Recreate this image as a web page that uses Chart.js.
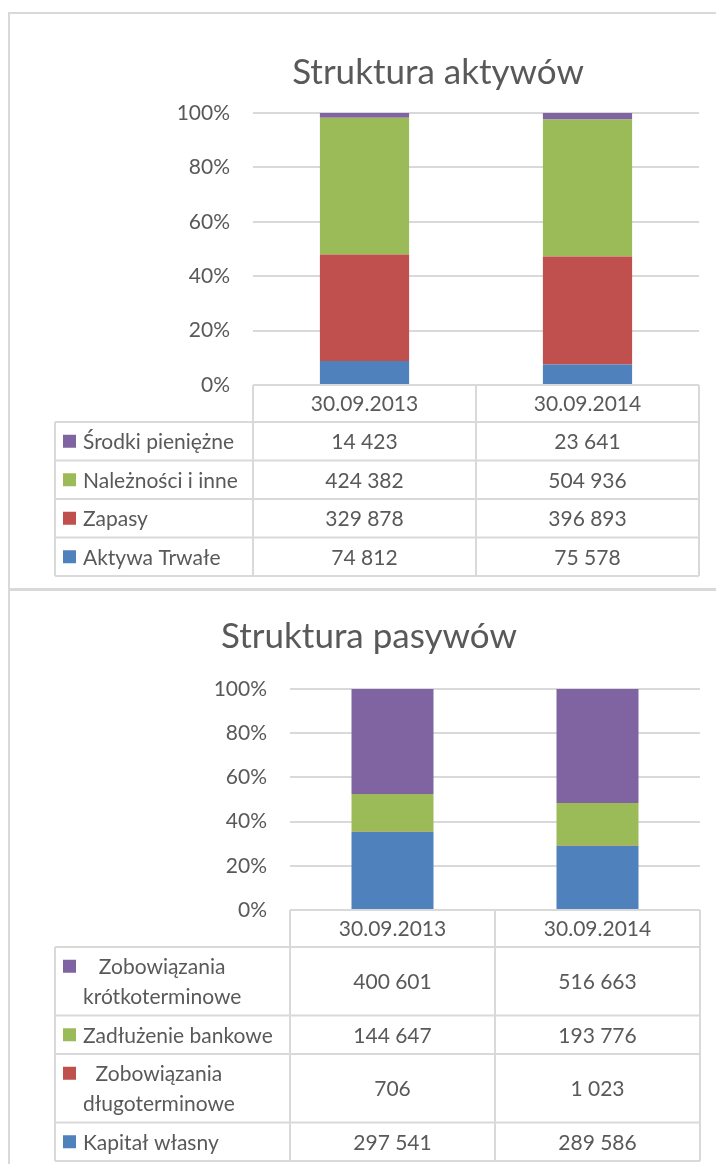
<!DOCTYPE html>
<html><head><meta charset="utf-8">
<script src="https://cdn.jsdelivr.net/npm/chart.js@4.4.0/dist/chart.umd.min.js"></script>
<style>
html,body{margin:0;padding:0;width:716px;height:1164px;overflow:hidden;background:#fff;}
.frame{position:absolute;border:2px solid #d9d9d9;box-sizing:border-box;}
.wrap{position:absolute;}
canvas{display:block;}
</style></head><body>
<div class="frame" style="left:8px;top:12px;width:870px;height:578px"></div>
<div class="frame" style="left:8px;top:589px;width:870px;height:620px"></div>
<div class="wrap" style="left:10px;top:14px;width:856px;height:574px"><canvas id="c1" width="856" height="574"></canvas></div>
<div class="wrap" style="left:10px;top:591px;width:718px;height:573px"><canvas id="c2" width="718" height="573"></canvas></div>
<script>
// ---- data ----
const categories = ['30.09.2013', '30.09.2014'];
const percentTicks = [0, 20, 40, 60, 80, 100];

// Struktura aktywów
const aktywaTrwale = [74812, 75578];
const zapasy = [329878, 396893];
const naleznosci = [424382, 504936];
const srodkiPieniezne = [14423, 23641];

// Struktura pasywów
const kapitalWlasny = [297541, 289586];
const zobDlugoterminowe = [706, 1023];
const zadluzenieBankowe = [144647, 193776];
const zobKrotkoterminowe = [400601, 516663];

const seriesAktywa = [
  {label: 'Aktywa Trwałe', values: aktywaTrwale, color: '#4f81bd'},
  {label: 'Zapasy', values: zapasy, color: '#c0504d'},
  {label: 'Należności i inne', values: naleznosci, color: '#9bbb59'},
  {label: 'Środki pieniężne', values: srodkiPieniezne, color: '#8064a2'}
];
const seriesPasywa = [
  {label: 'Kapitał własny', values: kapitalWlasny, color: '#4f81bd'},
  {label: 'Zobowiązania długoterminowe', values: zobDlugoterminowe, color: '#c0504d'},
  {label: 'Zadłużenie bankowe', values: zadluzenieBankowe, color: '#9bbb59'},
  {label: 'Zobowiązania krótkoterminowe', values: zobKrotkoterminowe, color: '#8064a2'}
];

const FONT = 'Lato, "Open Sans", sans-serif';
const TXT = '#595959';
const LINE = '#d9d9d9';

function fmt(v){ return String(v).replace(/\B(?=(\d{3})+(?!\d))/g, ' '); }

function wrapText(ctx, text, maxW){
  const words = text.split(' ');
  const lines = [];
  let cur = '';
  for (const w of words){
    const t = cur ? cur + ' ' + w : w;
    if (cur && ctx.measureText(t).width > maxW){ lines.push(cur); cur = w; }
    else cur = t;
  }
  if (cur) lines.push(cur);
  return lines;
}

const tablePlugin = {
  id: 'dataTable',
  afterDraw(chart, args, opts){
    const ctx = chart.ctx, x = chart.scales.x, area = chart.chartArea;
    const n = chart.data.labels.length;
    const colW = (x.right - x.left) / n;
    const series = opts.series;
    ctx.save();
    ctx.font = '21px ' + FONT;
    ctx.fillStyle = TXT;
    ctx.textBaseline = 'middle';
    const headTop = area.bottom;
    const headBot = headTop + opts.headerHeight;
    ctx.textAlign = 'center';
    for (let i = 0; i < n; i++){
      ctx.fillText(chart.data.labels[i], x.left + colW * (i + 0.5), (headTop + headBot) / 2 + 1);
    }
    let y = headBot;
    const rowBounds = [];
    const maxW = x.left - opts.textX + 6;
    for (let s = series.length - 1; s >= 0; s--){
      const ser = series[s];
      const lines = wrapText(ctx, ser.label, maxW);
      const h = opts.rowHeight + (lines.length - 1) * opts.lineStep;
      const c = y + h / 2;
      const firstY = c - (lines.length - 1) * opts.lineStep / 2;
      ctx.fillStyle = ser.color;
      ctx.fillRect(opts.keyX, firstY - opts.keySize / 2, opts.keySize, opts.keySize);
      ctx.fillStyle = TXT;
      let lw = 0;
      lines.forEach(l => { lw = Math.max(lw, ctx.measureText(l).width); });
      ctx.textAlign = 'center';
      lines.forEach((l, k) => ctx.fillText(l, opts.textX + lw / 2, firstY + k * opts.lineStep + 1));
      for (let i = 0; i < n; i++){
        ctx.fillText(fmt(ser.values[i]), x.left + colW * (i + 0.5), c + 1);
      }
      rowBounds.push(y);
      y += h;
    }
    const bottom = y;
    ctx.strokeStyle = LINE;
    ctx.lineWidth = 2;
    ctx.beginPath();
    ctx.moveTo(x.left, headTop); ctx.lineTo(x.right, headTop);
    ctx.moveTo(opts.left, headBot); ctx.lineTo(x.right, headBot);
    rowBounds.slice(1).forEach(ry => { ctx.moveTo(opts.left, ry); ctx.lineTo(x.right, ry); });
    ctx.moveTo(opts.left, bottom); ctx.lineTo(x.right, bottom);
    for (let i = 0; i <= n; i++){
      const cx = x.left + colW * i;
      ctx.moveTo(cx, headTop); ctx.lineTo(cx, bottom);
    }
    ctx.moveTo(opts.left, headBot); ctx.lineTo(opts.left, bottom);
    ctx.stroke();
    ctx.restore();
  }
};

function makeChart(id, title, series, cfg){
  const totals = categories.map((_, i) => series.reduce((a, s) => a + s.values[i], 0));
  const datasets = series.map(s => ({
    label: s.label,
    data: s.values.map((v, i) => v / totals[i] * 100),
    backgroundColor: s.color,
    borderWidth: 0,
    barPercentage: 0.5,
    categoryPercentage: 0.8
  }));
  return new Chart(document.getElementById(id), {
    type: 'bar',
    data: {labels: categories, datasets},
    plugins: [tablePlugin],
    options: {
      responsive: false,
      animation: false,
      events: [],
      layout: {padding: {left: 0, right: 0, top: 0, bottom: cfg.bottomPad}},
      plugins: {
        legend: {display: false},
        tooltip: {enabled: false},
        title: {
          display: true, text: title, color: TXT,
          font: {family: FONT, size: 35, weight: 'normal'},
          padding: {top: cfg.titleTop, bottom: cfg.titleBottom}
        },
        dataTable: {
          series, headerHeight: 37, rowHeight: 38.5, lineStep: 30,
          left: 45, keyX: 53, keySize: 13, textX: 73
        }
      },
      scales: {
        x: {type: 'category', stacked: true, display: false},
        y: {
          stacked: true, min: 0, max: 100,
          afterFit: s => { s.width = cfg.yWidth; },
          afterBuildTicks: s => { s.ticks = percentTicks.map(v => ({value: v})); },
          ticks: {color: TXT, font: {family: FONT, size: 21}, padding: 23, callback: v => v + '%'},
          grid: {color: LINE, lineWidth: 2, drawTicks: false},
          border: {display: false}
        },
        yr: {
          position: 'right', display: true,
          afterFit: s => { s.width = cfg.rightWidth; },
          ticks: {display: false},
          grid: {display: false, drawTicks: false},
          border: {display: false}
        }
      }
    }
  });
}

makeChart('c1', 'Struktura aktywów', seriesAktywa,
  {yWidth: 243, rightWidth: 167, titleTop: 38, titleBottom: 19, bottomPad: 203});
makeChart('c2', 'Struktura pasywów', seriesPasywa,
  {yWidth: 280, rightWidth: 28, titleTop: 25, titleBottom: 31, bottomPad: 254});
</script>
</body></html>
